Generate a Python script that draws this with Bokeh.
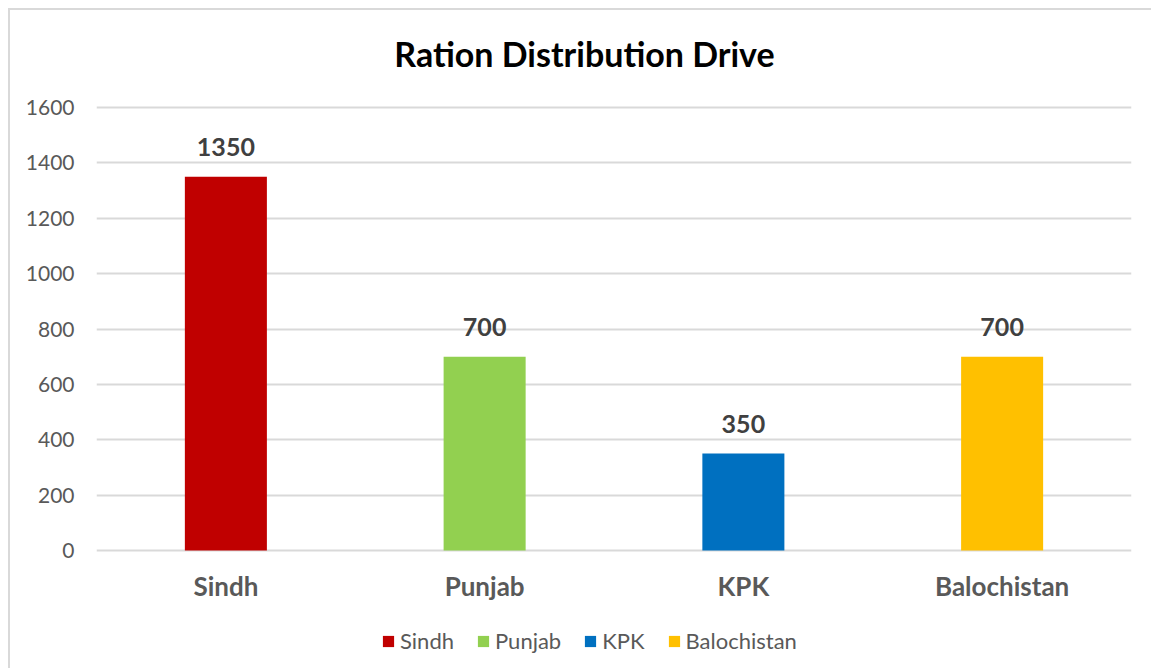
from bokeh.plotting import figure
from bokeh.models import ColumnDataSource, Legend, LegendItem, FactorRange, FixedTicker, Label
from bokeh.core.properties import value
from bokeh.embed import file_html
from bokeh.resources import INLINE

categories = ["Sindh", "Punjab", "KPK", "Balochistan"]
values = [1350, 700, 350, 700]
colors = ["#C00000", "#92D050", "#0070C0", "#FFC000"]
y_ticks = [0, 200, 400, 600, 800, 1000, 1200, 1400, 1600]
title_text = "Ration Distribution Drive"

FONT = "Lato"

# layout (pixels)
ABOVE = 97              # frame space above the 1600 line (title)
PLOT_H = 443            # pixels from 0 to 1600
BELOW = 110             # frame space below the zero line (category labels + legend)
y_top = y_ticks[-1]
y_max = y_top + ABOVE * y_top / PLOT_H
y_min = -BELOW * y_top / PLOT_H

src = ColumnDataSource(dict(cat=categories, val=values, col=colors,
                            lbl=[str(v) for v in values], zero=[0] * len(values)))

p = figure(width=1143, height=ABOVE + PLOT_H + BELOW + 10,
           x_range=FactorRange(*categories), y_range=(y_min, y_max),
           output_backend="svg", toolbar_location=None,
           min_border_left=86, min_border_right=22, min_border_top=0, min_border_bottom=10,
           styles={"border-left": "2px solid #d9d9d9", "border-top": "2px solid #d9d9d9",
                   "margin-left": "8px", "margin-top": "8px"})

p.outline_line_color = None
p.background_fill_color = "white"
p.border_fill_color = "white"

r = p.vbar(x="cat", top="val", width=0.317, source=src, fill_color="col", line_color=None)

p.text(x="cat", y="val", text="lbl", source=src, text_align="center", text_baseline="bottom",
       y_offset=-21, text_font=value(FONT), text_font_size="25px", text_font_style="bold",
       text_color="#404040")

# category labels under the zero line
p.text(x="cat", y="zero", text="cat", source=src, text_align="center", text_baseline="middle",
       y_offset=35, text_font=value(FONT), text_font_size="26px", text_font_style="bold",
       text_color="#595959")

# chart title (centred on the chart area)
p.add_layout(Label(x=488, y=ABOVE + PLOT_H + BELOW - 43, x_units="screen", y_units="screen",
                   text=title_text, text_align="center", text_baseline="middle",
                   text_font=FONT, text_font_size="34px", text_font_style="bold",
                   text_color="#000000"))

p.yaxis.ticker = FixedTicker(ticks=y_ticks)
p.yaxis.axis_line_color = None
p.yaxis.major_tick_line_color = None
p.yaxis.minor_tick_line_color = None
p.yaxis.major_label_text_font = FONT
p.yaxis.major_label_text_font_size = "21px"
p.yaxis.major_label_text_color = "#595959"
p.yaxis.major_label_standoff = 16

p.xaxis.visible = False

p.xgrid.grid_line_color = None
p.ygrid.grid_line_color = "#d9d9d9"
p.ygrid.grid_line_width = 2

legend = Legend(items=[LegendItem(label=c, renderers=[r], index=i) for i, c in enumerate(categories)],
                orientation="horizontal", location=(285, 6),
                glyph_width=14, glyph_height=14, label_text_font=FONT,
                label_text_font_size="22px", label_text_color="#595959",
                spacing=22, padding=0, margin=0, label_standoff=5,
                border_line_color=None, background_fill_alpha=0)
p.add_layout(legend, "center")

open("out.html", "w").write(file_html(p, INLINE))
